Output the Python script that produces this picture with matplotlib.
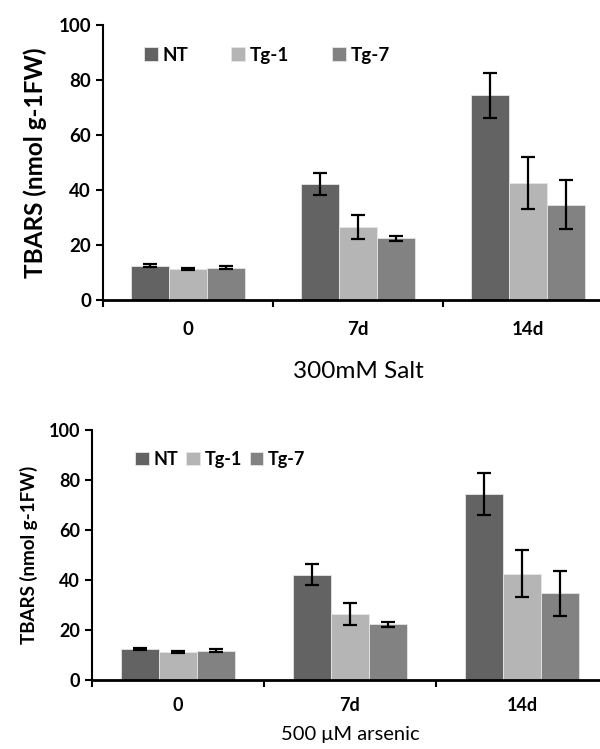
import numpy as np
from matplotlib import pyplot as plt

# TBARS values (same numbers in both panels)
days = ["0", "7d", "14d"]
lines = ["NT", "Tg-1", "Tg-7"]
nt = [12.5, 42.2, 74.4]
tg1 = [11.2, 26.4, 42.6]
tg7 = [11.8, 22.4, 34.7]
nt_err = [0.5, 4.1, 8.3]
tg1_err = [0.3, 4.4, 9.4]
tg7_err = [0.5, 1.0, 9.0]

colors = ["#636363", "#b5b5b5", "#828282"]

plt.rcParams["font.family"] = ["Lato", "DejaVu Sans"]


def draw_panel(ax, xlabel, ylab_size, tick_size, leg_spacing, leg_anchor, xlab_size, xpad, tpad):
    x = np.arange(len(days))
    w = 0.222
    series = [(nt, nt_err), (tg1, tg1_err), (tg7, tg7_err)]
    for i, (vals, errs) in enumerate(series):
        ax.bar(x + (i - 1) * w, vals, w, color=colors[i], edgecolor="#e6e6e6",
               linewidth=0.6, label=lines[i], zorder=2)
        ax.errorbar(x + (i - 1) * w, vals, yerr=errs, fmt="none", ecolor="black",
                    elinewidth=1.6, capsize=5, capthick=1.6, zorder=3)

    ax.set_xlim(-0.5, 2.5)
    ax.set_ylim(0, 100)
    ax.set_yticks([0, 20, 40, 60, 80, 100])
    ax.set_xticks([-0.5, 0.5, 1.5, 2.5])
    ax.set_xticklabels([])
    ax.set_xticks(x, minor=True)
    ax.set_xticklabels(days, minor=True, fontsize=tick_size, fontweight="bold")
    ax.tick_params(axis="x", which="minor", length=0, pad=tpad)
    ax.tick_params(axis="x", which="major", length=5, width=1.5, direction="out")
    ax.tick_params(axis="y", length=5, width=1.5, labelsize=tick_size)
    for lab in ax.get_yticklabels():
        lab.set_fontweight("bold")

    for s in ["top", "right"]:
        ax.spines[s].set_visible(False)
    ax.spines["left"].set_linewidth(1.5)
    ax.spines["bottom"].set_linewidth(2)

    ax.set_ylabel("TBARS (nmol g-1FW)", fontsize=ylab_size, fontweight="bold", labelpad=8)
    ax.set_xlabel(xlabel, fontsize=xlab_size, labelpad=xpad)

    ax.legend(loc="center left", bbox_to_anchor=leg_anchor, ncol=3, frameon=False,
              handlelength=0.75, handleheight=0.75, handletextpad=0.25,
              columnspacing=leg_spacing, borderaxespad=0,
              prop={"size": tick_size, "weight": "bold"})


fig = plt.figure(figsize=(6, 7.49), dpi=100)

ax1 = fig.add_axes([0.1717, 0.5995, 0.85, 0.3672])
draw_panel(ax1, "300mM Salt", 17.5, 13.5, 2.3, (0.065, 0.89), 17.5, 17, 15)

ax2 = fig.add_axes([0.1533, 0.0921, 0.86, 0.3338])
draw_panel(ax2, "500 \u03bcM arsenic", 13.5, 13, 0.45, (0.07, 0.884), 14.5, 9, 12)

fig.savefig("out.png", dpi=100)
